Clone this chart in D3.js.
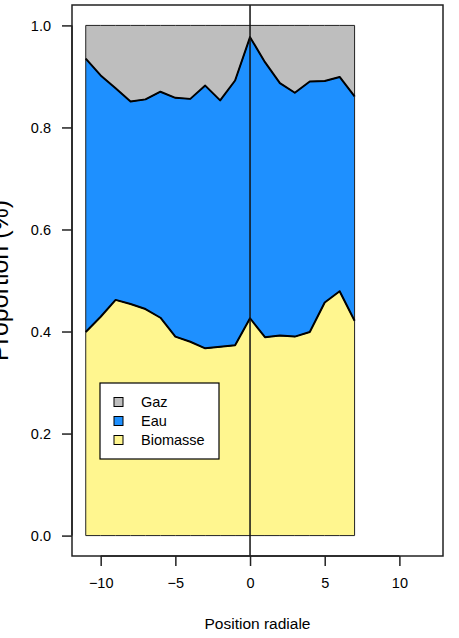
<!DOCTYPE html>
<html>
<head>
<meta charset="utf-8">
<script src="https://cdn.jsdelivr.net/npm/d3@7"></script>
<style>
  body { margin: 0; background: white; }
  text { font-family: "Liberation Sans", Arial, Helvetica, sans-serif; fill: black; }
</style>
</head>
<body>
<svg id="chart" width="459" height="638"></svg>
<script>
// radial positions
var positions = [-11, -10, -9, -8, -7, -6, -5, -4, -3, -2, -1, 0, 1, 2, 3, 4, 5, 6, 7]
// proportions
var biomasse = [0.399, 0.429, 0.462, 0.454, 0.444, 0.427, 0.390, 0.380, 0.367, 0.370, 0.373, 0.426, 0.389, 0.392, 0.390, 0.399, 0.457, 0.479, 0.421]
var eau = [0.536, 0.473, 0.415, 0.397, 0.411, 0.443, 0.468, 0.476, 0.515, 0.483, 0.519, 0.551, 0.539, 0.495, 0.478, 0.491, 0.434, 0.420, 0.440]
var gaz = [0.065, 0.098, 0.123, 0.149, 0.145, 0.130, 0.142, 0.144, 0.118, 0.147, 0.108, 0.023, 0.072, 0.113, 0.132, 0.110, 0.109, 0.101, 0.139]

var xTicks = [-10, -5, 0, 5, 10]
var yTicks = [0, 0.2, 0.4, 0.6, 0.8, 1.0]
var legendLabels = ["Gaz", "Eau", "Biomasse"]
var colors = { Biomasse: "#FFF68F", Eau: "#1E90FF", Gaz: "#BEBEBE" }

// plot region (window.top is reserved, so use other names)
var plotL = 72, plotR = 443, plotT = 5, plotB = 556

var svg = d3.select("#chart")

// R-like 4% padding on the axes
var x = d3.scaleLinear().domain([-11 - 0.04 * 23, 12 + 0.04 * 23]).range([plotL, plotR])
var y = d3.scaleLinear().domain([-0.04, 1.04]).range([plotB, plotT])

var rows = positions.map(function(p, i) {
    return { pos: p, Biomasse: biomasse[i], Eau: eau[i], Gaz: gaz[i] }
})

var stack = d3.stack().keys(["Biomasse", "Eau", "Gaz"])
var layers = stack(rows)

var area = d3.area()
    .x(function(d) { return x(d.data.pos) })
    .y0(function(d) { return y(d[0]) })
    .y1(function(d) { return y(d[1]) })

svg.selectAll("path.layer")
    .data(layers)
    .enter().append("path")
    .attr("class", "layer")
    .attr("d", area)
    .style("fill", function(d) { return colors[d.key] })
    .style("stroke", "#222")
    .style("stroke-width", 1)

// thick boundary lines between layers
var line = d3.line()
    .x(function(d) { return x(d.data.pos) })
    .y(function(d) { return y(d[1]) })

svg.selectAll("path.bound")
    .data(layers.slice(0, 2))
    .enter().append("path")
    .attr("class", "bound")
    .attr("d", line)
    .style("fill", "none")
    .style("stroke", "black")
    .style("stroke-width", 2)
    .style("stroke-linejoin", "round")

// vertical line at 0
svg.append("line")
    .attr("x1", x(0)).attr("x2", x(0))
    .attr("y1", plotT).attr("y2", plotB)
    .style("stroke", "#111")
    .style("stroke-width", 1.5)

// plot frame
svg.append("rect")
    .attr("x", plotL).attr("y", plotT)
    .attr("width", plotR - plotL).attr("height", plotB - plotT)
    .style("fill", "none")
    .style("stroke", "#222")
    .style("stroke-width", 1.5)

// x axis
var xAxis = d3.axisBottom(x).tickValues(xTicks).tickSize(10).tickPadding(12)
    .tickFormat(function(d) { return d < 0 ? "\u2212" + Math.abs(d) : d })
var gx = svg.append("g").attr("transform", "translate(0," + plotB + ")").call(xAxis)
gx.select(".domain")
    .attr("d", "M" + x(-10) + ",0H" + x(10))
    .style("stroke", "#222").style("stroke-width", 1.5)
gx.selectAll(".tick line").style("stroke", "#222").style("stroke-width", 1.5)
gx.selectAll(".tick text").style("font-size", "14.5px").style("font-family", "Liberation Sans, Arial, sans-serif")

// y axis
var yAxis = d3.axisLeft(y).tickValues(yTicks).tickSize(10).tickPadding(11)
    .tickFormat(d3.format(".1f"))
var gy = svg.append("g").attr("transform", "translate(" + plotL + ",0)").call(yAxis)
gy.select(".domain")
    .attr("d", "M0," + y(0) + "V" + y(1))
    .style("stroke", "#222").style("stroke-width", 1.5)
gy.selectAll(".tick line").style("stroke", "#222").style("stroke-width", 1.5)
gy.selectAll(".tick text").style("font-size", "14.5px").style("font-family", "Liberation Sans, Arial, sans-serif")

// axis titles
svg.append("text")
    .attr("x", (plotL + plotR) / 2).attr("y", 629)
    .attr("text-anchor", "middle")
    .style("font-size", "15.5px")
    .text("Position radiale")

svg.append("text")
    .attr("transform", "translate(8," + ((plotT + plotB) / 2) + ") rotate(-90)")
    .attr("text-anchor", "middle")
    .style("font-size", "25px")
    .text("Proportion (%)")

// legend
var lg = svg.append("g")
lg.append("rect")
    .attr("x", 100).attr("y", 383)
    .attr("width", 119).attr("height", 76)
    .style("fill", "white")
    .style("stroke", "black")
    .style("stroke-width", 1.2)

legendLabels.forEach(function(lab, i) {
    var cy = 402 + i * 19
    lg.append("rect")
        .attr("x", 114).attr("y", cy - 4.5)
        .attr("width", 9).attr("height", 9)
        .style("fill", colors[lab])
        .style("stroke", "black")
        .style("stroke-width", 1)
    lg.append("text")
        .attr("x", 141).attr("y", cy + 5)
        .style("font-size", "14.5px")
        .text(lab)
})
</script>
</body>
</html>
